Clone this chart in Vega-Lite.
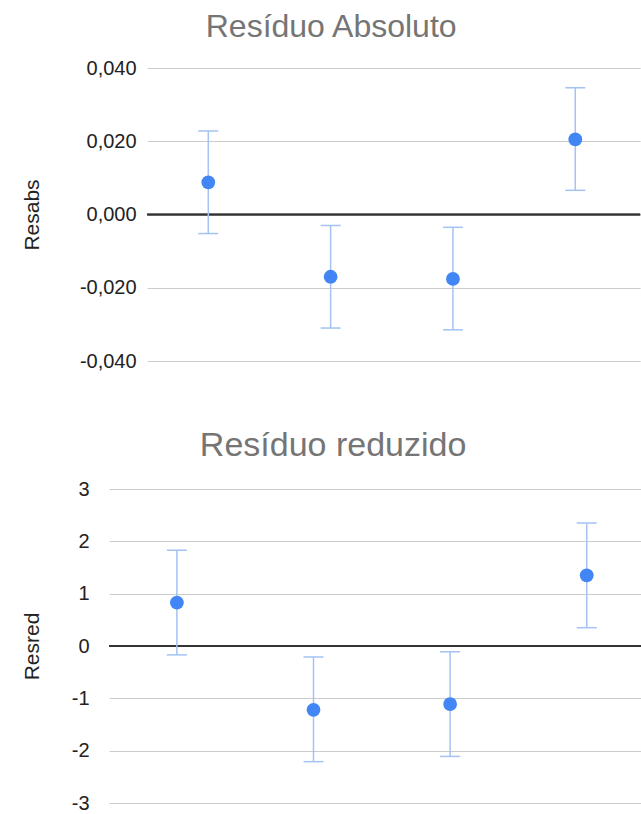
{
  "$schema": "https://vega.github.io/schema/vega-lite/v6.json",
  "padding": {"left": 21, "top": 11, "right": 0, "bottom": 0},
  "background": "white",
  "center": true,
  "spacing": 58,
  "config": {
    "view": {"stroke": null},
    "font": "Liberation Sans",
    "title": {"fontWeight": "normal", "color": "#757575", "anchor": "middle", "frame": "bounds"}
  },
  "vconcat": [
    {
      "title": {"text": "Resíduo Absoluto", "fontSize": 32, "offset": 14},
      "width": 493,
      "height": 293,
      "data": {"values": [
        {"i": 1, "v": 0.0088, "lo": -0.0052, "hi": 0.0228},
        {"i": 2, "v": -0.0170, "lo": -0.0310, "hi": -0.0030},
        {"i": 3, "v": -0.0176, "lo": -0.0315, "hi": -0.0035},
        {"i": 4, "v": 0.0205, "lo": 0.0066, "hi": 0.0346}
      ]},
      "encoding": {
        "x": {"field": "i", "type": "quantitative", "scale": {"domain": [0.5, 4.53], "nice": false, "zero": false}, "axis": null}
      },
      "layer": [
        {
          "mark": {"type": "rule", "color": "#333333", "strokeWidth": 1.5},
          "encoding": {"x": null, "y": {"datum": 0, "type": "quantitative"}}
        },
        {
          "mark": {"type": "rule", "color": "#a4c2f4", "strokeWidth": 1.5},
          "encoding": {
            "y": {"field": "lo", "type": "quantitative",
              "scale": {"domain": [-0.04, 0.04], "nice": false},
              "axis": {
                "values": [-0.04, -0.02, 0, 0.02, 0.04],
                "labelExpr": "replace(replace(format(datum.value, '.3f'), '.', ','), '\u2212', '-')",
                "grid": true, "gridColor": "#cccccc", "gridWidth": 1,
                "domain": false, "ticks": false,
                "labelFontSize": 20, "labelColor": "#222222", "labelPadding": 11,
                "title": "Resabs", "titleFontSize": 21, "titleFontWeight": "normal", "titleColor": "#222222", "titlePadding": 37
              }
            },
            "y2": {"field": "hi"}
          }
        },
        {
          "mark": {"type": "tick", "orient": "horizontal", "color": "#a4c2f4", "size": 20, "thickness": 1.5, "opacity": 1},
          "encoding": {"y": {"field": "lo", "type": "quantitative"}}
        },
        {
          "mark": {"type": "tick", "orient": "horizontal", "color": "#a4c2f4", "size": 20, "thickness": 1.5, "opacity": 1},
          "encoding": {"y": {"field": "hi", "type": "quantitative"}}
        },
        {
          "mark": {"type": "circle", "color": "#4285f4", "size": 190, "opacity": 1},
          "encoding": {"y": {"field": "v", "type": "quantitative"}}
        }
      ]
    },
    {
      "title": {"text": "Resíduo reduzido", "fontSize": 34, "offset": 16, "dx": -17},
      "width": 569,
      "height": 314,
      "data": {"values": [
        {"i": 1, "v": 0.83, "lo": -0.17, "hi": 1.83},
        {"i": 2, "v": -1.22, "lo": -2.21, "hi": -0.21},
        {"i": 3, "v": -1.11, "lo": -2.11, "hi": -0.11},
        {"i": 4, "v": 1.35, "lo": 0.35, "hi": 2.35}
      ]},
      "encoding": {
        "x": {"field": "i", "type": "quantitative", "scale": {"domain": [0.504, 4.669], "nice": false, "zero": false}, "axis": null}
      },
      "layer": [
        {
          "mark": {"type": "rule", "color": "#333333", "strokeWidth": 1.5},
          "encoding": {"x": null, "y": {"datum": 0, "type": "quantitative"}}
        },
        {
          "mark": {"type": "rule", "color": "#a4c2f4", "strokeWidth": 1.5},
          "encoding": {
            "y": {"field": "lo", "type": "quantitative",
              "scale": {"domain": [-3, 3], "nice": false},
              "axis": {
                "values": [-3, -2, -1, 0, 1, 2, 3],
                "labelExpr": "replace(format(datum.value, 'd'), '\u2212', '-')",
                "grid": true, "gridColor": "#cccccc", "gridWidth": 1,
                "domain": false, "ticks": false,
                "labelFontSize": 20, "labelColor": "#222222", "labelPadding": 20,
                "title": "Resred", "titleFontSize": 21, "titleFontWeight": "normal", "titleColor": "#222222", "titlePadding": 29
              }
            },
            "y2": {"field": "hi"}
          }
        },
        {
          "mark": {"type": "tick", "orient": "horizontal", "color": "#a4c2f4", "size": 20, "thickness": 1.5, "opacity": 1},
          "encoding": {"y": {"field": "lo", "type": "quantitative"}}
        },
        {
          "mark": {"type": "tick", "orient": "horizontal", "color": "#a4c2f4", "size": 20, "thickness": 1.5, "opacity": 1},
          "encoding": {"y": {"field": "hi", "type": "quantitative"}}
        },
        {
          "mark": {"type": "circle", "color": "#4285f4", "size": 190, "opacity": 1},
          "encoding": {"y": {"field": "v", "type": "quantitative"}}
        }
      ]
    }
  ]
}
